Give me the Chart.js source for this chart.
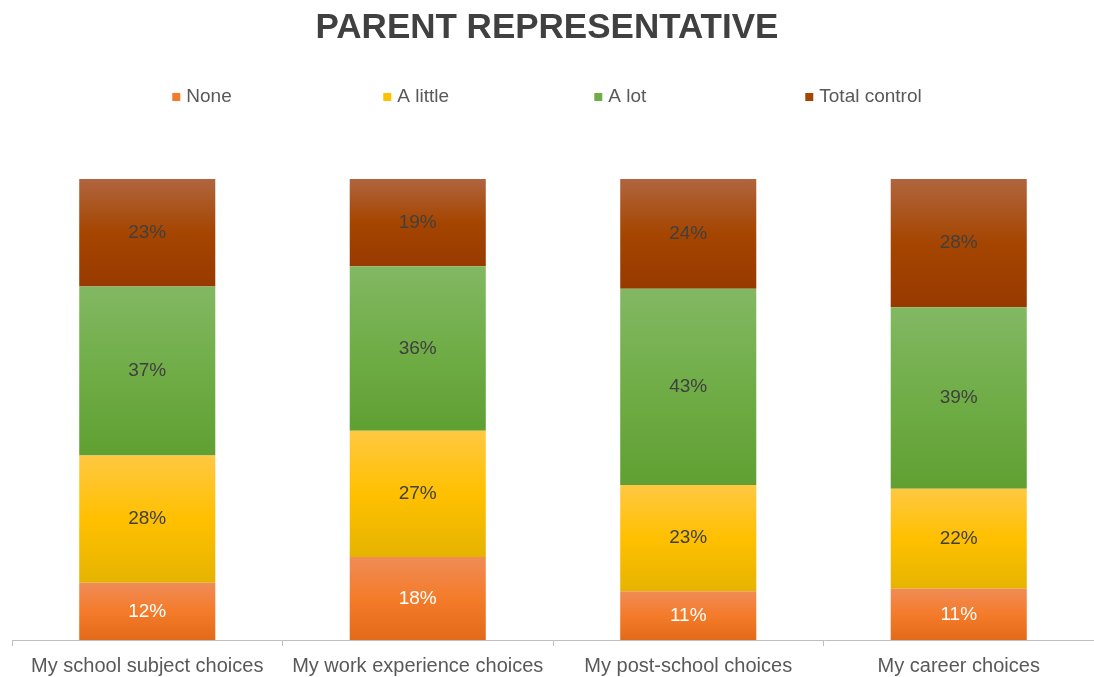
<!DOCTYPE html>
<html>
<head>
<meta charset="utf-8">
<script src="https://cdn.jsdelivr.net/npm/chart.js@4/dist/chart.umd.min.js"></script>
<style>
  html, body { margin: 0; padding: 0; background: #ffffff; }
  #wrap { width: 1094px; height: 677px; position: relative; }
</style>
</head>
<body>
<div id="wrap"><canvas id="c"></canvas></div>
<script>
const categories = ["My school subject choices", "My work experience choices", "My post-school choices", "My career choices"];
const seriesNames = ["None", "A little", "A lot", "Total control"];
const noneValues = [12.4, 18.0, 10.6, 11.1];
const aLittleValues = [27.6, 27.4, 23.0, 21.7];
const aLotValues = [36.7, 35.7, 42.6, 39.4];
const totalControlValues = [23.3, 18.9, 23.8, 27.8];
const chartTitle = "PARENT REPRESENTATIVE";

const gradStops = [
  ["#F08C57", "#F47B2A", "#E36A18"],
  ["#FFC842", "#FFC000", "#E5B400"],
  ["#82B863", "#70AD47", "#60A032"],
  ["#B0653F", "#A54500", "#983A00"]
];
const labelColors = ["#FFFFFF", "#404040", "#404040", "#404040"];
const allSeries = [noneValues, aLittleValues, aLotValues, totalControlValues];

function segGradient(ctx) {
  const chart = ctx.chart;
  const ds = ctx.datasetIndex;
  const stops = gradStops[ds];
  const y = chart.scales && chart.scales.y;
  if (!y || ctx.type !== 'data') return stops[1];
  let base = 0;
  for (let i = 0; i < ds; i++) base += allSeries[i][ctx.dataIndex];
  const top = base + allSeries[ds][ctx.dataIndex];
  const y0 = y.getPixelForValue(top);
  const y1 = y.getPixelForValue(base);
  if (!isFinite(y0) || !isFinite(y1) || y0 === y1) return stops[1];
  const g = chart.ctx.createLinearGradient(0, y0, 0, y1);
  g.addColorStop(0, stops[0]);
  g.addColorStop(0.5, stops[1]);
  g.addColorStop(1, stops[2]);
  return g;
}

const dataLabelPlugin = {
  id: 'segLabels',
  afterDatasetsDraw(chart) {
    const c = chart.ctx;
    c.save();
    c.font = '19px "Liberation Sans", Arial, sans-serif';
    c.textAlign = 'center';
    c.textBaseline = 'middle';
    chart.data.datasets.forEach((ds, di) => {
      const meta = chart.getDatasetMeta(di);
      meta.data.forEach((el, i) => {
        const p = el.getCenterPoint();
        c.fillStyle = labelColors[di];
        c.fillText(Math.round(ds.data[i]) + '%', p.x, p.y);
      });
    });
    c.restore();
  }
};

const legendPlugin = {
  id: 'spreadLegend',
  afterDraw(chart) {
    const c = chart.ctx;
    c.save();
    c.font = '19px "Liberation Sans", Arial, sans-serif';
    c.textBaseline = 'middle';
    c.textAlign = 'left';
    const slot = 211, box = 8, gap = 6;
    const lastW = c.measureText(seriesNames[seriesNames.length - 1]).width;
    const total = slot * (seriesNames.length - 1) + box + gap + lastW;
    let x = (chart.width - total) / 2;
    const yc = 97;
    seriesNames.forEach((n, i) => {
      c.fillStyle = gradStops[i][1];
      c.fillRect(x, yc - box / 2, box, box);
      c.fillStyle = '#595959';
      c.fillText(n, x + box + gap, yc);
      x += slot;
    });
    c.restore();
  }
};

new Chart(document.getElementById('c'), {
  type: 'bar',
  data: {
    labels: categories,
    datasets: seriesNames.map((n, i) => ({
      label: n,
      data: allSeries[i],
      backgroundColor: segGradient,
      borderWidth: 0,
      categoryPercentage: 1.0,
      barPercentage: 0.503
    }))
  },
  options: {
    responsive: true,
    maintainAspectRatio: false,
    animation: false,
    layout: { padding: { left: 0, right: 0, top: 0, bottom: -9 } },
    plugins: {
      legend: { display: false },
      tooltip: { enabled: false },
      title: {
        display: true,
        text: chartTitle,
        color: '#404040',
        font: { family: '"Liberation Sans", Arial, sans-serif', size: 35, weight: 'bold' },
        padding: { top: 7, bottom: 130 }
      }
    },
    scales: {
      x: {
        stacked: true,
        offset: true,
        grid: { display: true, drawOnChartArea: false, drawTicks: true, tickLength: 6, color: '#BFBFBF', offset: true },
        border: { display: true, color: '#BFBFBF', width: 1 },
        ticks: {
          color: '#595959',
          padding: 8,
          font: { family: '"Liberation Sans", Arial, sans-serif', size: 20 },
          maxRotation: 0, autoSkip: false
        }
      },
      y: {
        stacked: true,
        display: true,
        min: 0,
        max: 100,
        ticks: { display: false },
        grid: { display: false, drawTicks: false },
        border: { display: false },
        afterFit(scale) { scale.width = 12; }
      }
    }
  },
  plugins: [dataLabelPlugin, legendPlugin]
});
</script>
</body>
</html>
